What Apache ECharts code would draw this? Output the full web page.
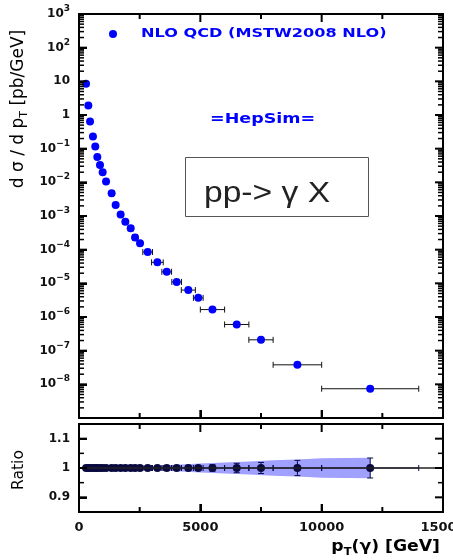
<!DOCTYPE html>
<html>
<head>
<meta charset="utf-8">
<script src="https://cdn.jsdelivr.net/npm/echarts@6/dist/echarts.min.js"></script>
<style>
html, body { margin: 0; padding: 0; background: #fff; }
#chart { width: 453px; height: 560px; }
</style>
</head>
<body>
<div id="chart"></div>
<script>
// photon pT bin centres and half widths (GeV)
var ptCenter = [290, 385, 455, 575, 670, 755, 865, 975, 1115, 1345, 1510, 1715, 1910, 2130, 2310, 2515,
	2830, 3230, 3615, 4025, 4505, 4915, 5500, 6500, 7500, 9000, 12000];
var ptHalfWidth = [40, 40, 40, 50, 50, 50, 50, 50, 60, 80, 80, 90, 90, 100, 100, 100,
	200, 240, 200, 200, 290, 200, 500, 500, 500, 1000, 2000];
// d sigma / d pT [pb/GeV]
var xsec = [8.5, 1.9, 0.64, 0.23, 0.116, 0.057, 0.033, 0.020, 0.0105, 0.0047, 0.00214, 0.0011, 6.7e-4, 4.3e-4, 2.3e-4, 1.55e-4,
	8.5e-5, 4.2e-5, 2.2e-5, 1.1e-5, 6.3e-6, 3.7e-6, 1.66e-6, 6.0e-7, 2.1e-7, 3.8e-8, 7.4e-9];
// ratio panel
var ratio = [1, 1, 1, 1, 1, 1, 1, 1, 1, 1, 1, 1, 1, 1, 1, 1, 1, 1, 1, 1, 1, 1, 1, 1, 1, 1, 1];
var ratioErr = [0.001, 0.001, 0.001, 0.001, 0.001, 0.001, 0.001, 0.001, 0.002, 0.002, 0.002, 0.002, 0.002, 0.003, 0.003, 0.003,
	0.004, 0.005, 0.005, 0.006, 0.007, 0.008, 0.011, 0.016, 0.019, 0.026, 0.034];
var bandPt = [200, 1000, 2000, 3000, 4000, 5000, 6000, 7000, 8000, 9000, 10000, 11000, 12000];
var bandUp = [1.002, 1.002, 1.004, 1.007, 1.011, 1.015, 1.019, 1.022, 1.026, 1.029, 1.033, 1.034, 1.035];
var bandDown = [0.998, 0.998, 0.996, 0.993, 0.989, 0.985, 0.981, 0.978, 0.974, 0.971, 0.967, 0.966, 0.965];
// axis ranges, ticks and labels
var ptRange = [0, 15000];
var xsecRange = [1e-9, 1e3];
var ratioRange = [0.85, 1.15];
var decadeTicks = [1e-8, 1e-7, 1e-6, 1e-5, 1e-4, 1e-3, 1e-2, 1e-1, 1, 10, 100];
var decadeLabels = [1e-8, 1e-7, 1e-6, 1e-5, 1e-4, 1e-3, 1e-2, 1e-1, 1, 10, 100, 1000];
var ratioMajor = [0.9, 1, 1.1];
var ratioMinor = [0.95, 1.05];
var ptMajor = [5000, 10000];
var ptMinor = [2500, 7500, 12500];
var ptLabels = [0, 5000, 10000, 15000];

var FONT = 'DejaVu Sans';

// 2..9 x 10^n marks between the decades
var decadeMinor = [];
for (var dec = -9; dec < 3; dec++) {
	for (var m = 2; m < 10; m++) {
		decadeMinor.push(m * Math.pow(10, dec));
	}
}

var decadeLabel = function(v) {
	var n = Math.round(Math.log10(v));
	if (n === 0) return '{b|1}';
	if (n === 1) return '{b|10}';
	return '{b|10}{s|' + String(n).replace('-', '\u2212') + '}';
};

var lineEl = function(x1, y1, x2, y2, color, w) {
	return { type: 'line', shape: { x1: x1, y1: y1, x2: x2, y2: y2 }, style: { stroke: color, lineWidth: w } };
};

var errorBars = function(color, cap) {
	return function(params, api) {
		var x = api.value(0), y = api.value(1), dx = api.value(2), dy = api.value(3);
		var kids = [];
		if (dx > 0) {
			var l = api.coord([x - dx, y]), r = api.coord([x + dx, y]);
			kids.push(lineEl(l[0], l[1], r[0], r[1], color, 1));
			kids.push(lineEl(l[0], l[1] - cap, l[0], l[1] + cap, color, 1));
			kids.push(lineEl(r[0], r[1] - cap, r[0], r[1] + cap, color, 1));
		}
		if (dy > 0) {
			var t = api.coord([x, y + dy]), b = api.coord([x, y - dy]);
			kids.push(lineEl(t[0], t[1], b[0], b[1], color, 1));
			kids.push(lineEl(t[0] - cap, t[1], t[0] + cap, t[1], color, 1));
			kids.push(lineEl(b[0] - cap, b[1], b[0] + cap, b[1], color, 1));
		}
		return { type: 'group', children: kids };
	};
};

var mainErr = ptCenter.map(function(x, i) { return [x, xsec[i], ptHalfWidth[i], 0]; });
var mainPts = ptCenter.map(function(x, i) { return [x, xsec[i]]; });
var ratioErrData = ptCenter.map(function(x, i) { return [x, ratio[i], ptHalfWidth[i], ratioErr[i]]; });
var ratioPts = ptCenter.map(function(x, i) { return [x, ratio[i]]; });

var texts = [
	{ type: 'circle', shape: { cx: 113, cy: 34, r: 4 }, style: { fill: '#0000ff' } },
	{ type: 'text', x: 141, y: 34, scaleX: 1.24,
		style: { text: 'NLO QCD (MSTW2008 NLO)', fill: '#0000ff', fontFamily: FONT, fontWeight: 'bold', fontSize: 13, verticalAlign: 'middle' } },
	{ type: 'text', x: 210, y: 119, scaleX: 1.25,
		style: { text: '=HepSim=', fill: '#0000ff', fontFamily: FONT, fontWeight: 'bold', fontSize: 14, verticalAlign: 'middle' } },
	{ type: 'rect', shape: { x: 185.5, y: 157.5, width: 183, height: 59 }, style: { fill: '#fff', stroke: '#555', lineWidth: 1 } },
	{ type: 'text', x: 204, y: 194, scaleX: 1.12,
		style: { text: 'pp-> \u03b3 X', fill: '#222', fontFamily: 'Liberation Sans', fontSize: 30, verticalAlign: 'middle' } },
	{ type: 'text', x: 19, y: 109, rotation: Math.PI / 2,
		style: {
			text: '{m|d \u03c3 / d p}{t|T}{m| [pb/GeV]}', align: 'center', verticalAlign: 'middle',
			rich: {
				m: { fontFamily: FONT, fontSize: 17, fill: '#000', lineHeight: 22 },
				t: { fontFamily: FONT, fontSize: 11, fill: '#000', lineHeight: 14, verticalAlign: 'bottom' }
			}
		} },
	{ type: 'text', x: 19, y: 470, rotation: Math.PI / 2,
		style: { text: 'Ratio', fill: '#000', fontFamily: FONT, fontSize: 15.5, align: 'center', verticalAlign: 'middle' } },
	{ type: 'text', x: 440, y: 547, scaleX: 1.15,
		style: {
			text: '{m|p}{t|T}{m|(\u03b3) [GeV]}', align: 'right', verticalAlign: 'middle',
			rich: {
				m: { fontFamily: FONT, fontWeight: 'bold', fontSize: 15, fill: '#000', lineHeight: 20 },
				t: { fontFamily: FONT, fontWeight: 'bold', fontSize: 10, fill: '#000', lineHeight: 12, verticalAlign: 'bottom' }
			}
		} }
];

var tickStyle = { show: true, inside: true, length: 8, lineStyle: { color: '#000', width: 2 } };

var chart = echarts.init(document.getElementById('chart'));
chart.setOption({
	animation: false,
	grid: [
		{ left: 79, top: 14, width: 364, height: 404, outerBoundsMode: 'none',
			show: true, borderColor: '#000', borderWidth: 2, backgroundColor: 'transparent' },
		{ left: 79, top: 424, width: 364, height: 88, outerBoundsMode: 'none',
			show: true, borderColor: '#000', borderWidth: 2, backgroundColor: 'transparent' }
	],
	xAxis: [{
		type: 'value', gridIndex: 0, min: ptRange[0], max: ptRange[1],
		axisLine: { show: true, onZero: false, lineStyle: { color: '#000', width: 2 } },
		axisTick: echarts.util.extend({ customValues: ptMajor }, tickStyle),
		axisLabel: { show: false }, splitLine: { show: false }
	}, {
		type: 'value', gridIndex: 1, min: ptRange[0], max: ptRange[1],
		axisLine: { show: true, onZero: false, lineStyle: { color: '#000', width: 2 } },
		axisTick: echarts.util.extend({ customValues: ptMajor }, tickStyle),
		splitLine: { show: false },
		axisLabel: {
			show: true, margin: 9, customValues: ptLabels, color: '#111',
			fontFamily: FONT, fontWeight: 'bold', fontSize: 13,
			formatter: function(v) { return String(v); }
		}
	}],
	yAxis: [{
		type: 'log', gridIndex: 0, min: xsecRange[0], max: xsecRange[1], logBase: 10,
		axisLine: { show: true, onZero: false, lineStyle: { color: '#000', width: 2 } },
		axisTick: echarts.util.extend({ customValues: decadeTicks }, tickStyle),
		splitLine: { show: false },
		axisLabel: {
			show: true, margin: 9, customValues: decadeLabels, formatter: decadeLabel,
			rich: {
				b: { fontFamily: FONT, fontWeight: 'bold', fontSize: 12, color: '#111', lineHeight: 20 },
				s: { fontFamily: FONT, fontWeight: 'bold', fontSize: 9, color: '#111', lineHeight: 8, verticalAlign: 'top' }
			}
		}
	}, {
		type: 'value', gridIndex: 1, min: ratioRange[0], max: ratioRange[1],
		axisLine: { show: true, onZero: false, lineStyle: { color: '#000', width: 2 } },
		axisTick: echarts.util.extend({ customValues: ratioMajor }, tickStyle),
		splitLine: { show: false },
		axisLabel: {
			show: true, margin: 9, customValues: ratioMajor, color: '#111',
			fontFamily: FONT, fontWeight: 'bold', fontSize: 12,
			formatter: function(v) { return String(Math.round(v * 100) / 100); }
		}
	}],
	series: [{
		type: 'custom', xAxisIndex: 0, yAxisIndex: 0,
		renderItem: errorBars('#111', 3),
		encode: { x: 0, y: 1 },
		data: mainErr
	}, {
		name: 'NLO QCD (MSTW2008 NLO)',
		type: 'scatter', xAxisIndex: 0, yAxisIndex: 0,
		symbol: 'circle', symbolSize: 8,
		itemStyle: { color: '#0000ff', opacity: 1 },
		data: mainPts
	}, {
		type: 'custom', xAxisIndex: 1, yAxisIndex: 1,
		renderItem: function(params, api) {
			var pts = [], i;
			for (i = 0; i < bandPt.length; i++) pts.push(api.coord([bandPt[i], bandUp[i]]));
			for (i = bandPt.length - 1; i >= 0; i--) pts.push(api.coord([bandPt[i], bandDown[i]]));
			return { type: 'polygon', shape: { points: pts }, style: { fill: '#a0a0ff' } };
		},
		encode: { x: 0, y: 1 },
		data: [[bandPt[0], 1]]
	}, {
		type: 'custom', xAxisIndex: 1, yAxisIndex: 1,
		renderItem: errorBars('#0a0a40', 3),
		encode: { x: 0, y: 1 },
		data: ratioErrData
	}, {
		type: 'scatter', xAxisIndex: 1, yAxisIndex: 1,
		symbol: 'circle', symbolSize: 8,
		itemStyle: { color: '#0a0a40', opacity: 1 },
		data: ratioPts,
		markLine: {
			silent: true, symbol: 'none', label: { show: false },
			lineStyle: { color: '#222', width: 1.5, type: 'solid' },
			data: [{ yAxis: 1 }]
		}
	}]
});

// inward frame ticks on all four sides, placed through each grid's scales, on their own layer
var frameTicks = function(gridIndex, yRange, yMajor, yMinor) {
	var out = [];
	var px = function(x, y) { return chart.convertToPixel({ gridIndex: gridIndex }, [x, y]); };
	var push = function(x1, y1, x2, y2, w) {
		if ([x1, y1, x2, y2].some(function(n) { return !isFinite(n); })) return;
		out.push({ type: 'line', zlevel: 1, z: 100, silent: true,
			shape: { x1: x1, y1: y1, x2: x2, y2: y2 }, style: { stroke: '#000', lineWidth: w } });
	};
	var yTick = function(v, len, w) {
		var l = px(ptRange[0], v), r = px(ptRange[1], v);
		if (!l || !r) return;
		push(l[0], l[1], l[0] + len, l[1], w);
		push(r[0], r[1], r[0] - len, r[1], w);
	};
	var xTick = function(v, len) {
		var b = px(v, yRange[0]), t = px(v, yRange[1]);
		if (!b || !t) return;
		push(b[0], b[1], b[0], b[1] - len, 2);
		push(t[0], t[1], t[0], t[1] + len, 2);
	};
	yMajor.forEach(function(v) { yTick(v, 8, 2); });
	yMinor.forEach(function(v) { yTick(v, 5, 1.5); });
	ptMajor.forEach(function(v) { xTick(v, 8); });
	ptMinor.forEach(function(v) { xTick(v, 5); });
	return out;
};

var ticks = frameTicks(0, xsecRange, decadeTicks, decadeMinor)
	.concat(frameTicks(1, ratioRange, ratioMajor, ratioMinor));

chart.setOption({ graphic: texts.concat(ticks) });
</script>
</body>
</html>
